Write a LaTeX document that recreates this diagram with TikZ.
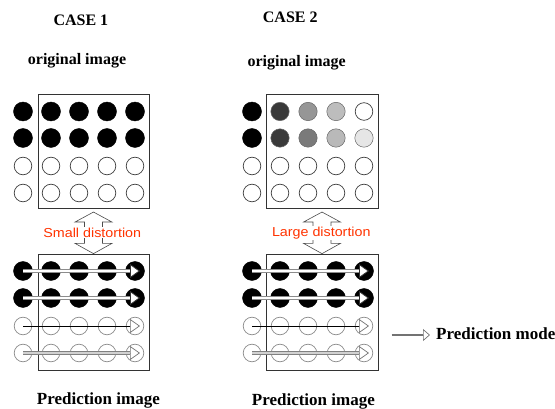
\documentclass[tikz,border=0pt]{standalone}
\usepackage{fontspec}
\usepackage{graphicx}
\setmainfont{Liberation Serif}
\newfontfamily\arialf{Liberation Sans}
\usetikzlibrary{arrows.meta,calc}
\definecolor{distred}{RGB}{255,51,0}
\definecolor{ga}{RGB}{57,57,57}
\definecolor{gb}{RGB}{150,150,150}
\definecolor{gc}{RGB}{189,189,189}
\definecolor{gd}{RGB}{58,58,58}
\definecolor{ge}{RGB}{122,122,122}
\definecolor{gf}{RGB}{185,185,185}
\definecolor{gg}{RGB}{230,230,230}
\begin{document}
\begin{tikzpicture}[x=1pt,y=-1pt,
  fullc/.style={circle,fill=black,draw=black,line width=0.4pt,minimum size=19pt,inner sep=0pt},
  openc/.style={circle,fill=white,draw=black!75,line width=0.7pt,minimum size=17.6pt,inner sep=0pt},
  predopen/.style={openc,draw=black!45},
  greyc/.style={circle,fill=#1,draw=black!60,line width=0.5pt,minimum size=18.4pt,inner sep=0pt},
  frame/.style={draw=black!80,line width=0.7pt,minimum width=111pt,inner sep=0pt},
  title/.style={font=\bfseries\fontsize{16}{18}\selectfont,inner sep=0pt,anchor=base west},
  predtitle/.style={font=\bfseries\fontsize{17}{19}\selectfont,inner sep=0pt,anchor=base west},
  distlabel/.style={font=\arialf\fontsize{13}{15}\selectfont,text=distred,fill=white,inner sep=1pt},
  hollow/.style={draw=black!70,line width=0.6pt,fill=white},
  shaftA/.style={draw=black!45,double=white,line width=0.7pt,double distance=2.2pt},
  shaftB/.style={draw=black,line width=0.9pt},
  shaftC/.style={draw=black!50,double=black!18,line width=0.7pt,double distance=2pt},
  shaftM/.style={draw=black!55,line width=1.4pt},
  tipA/.style={draw=black!80,line width=0.8pt,-{Triangle[length=10pt,width=14pt,fill=white]}},
  tipB/.style={draw=black!55,line width=0.7pt,-{Triangle[length=10pt,width=14pt,fill=white]}},
  tipM/.style={draw=black!55,line width=0.7pt,-{Triangle[length=7pt,width=12pt,fill=white]}},
  dblarr/.pic={\path[hollow] (0,0) -- (18.5,10) -- (9,10) -- (9,31.3) -- (18.5,31.3) -- (0,41.6)
      -- (-18.5,31.3) -- (-9,31.3) -- (-9,10) -- (-18.5,10) -- cycle;}
]
\useasboundingbox (0,0) rectangle (555,409);

% ---------- titles ----------
\node[title] (case1) at (53.3,26) {CASE 1};
\node[title] (case2) at (262.7,22.7) {CASE 2};
\node[title] (orig1) at (27.7,64.5) {original image};
\node[title] (orig2) at (247.3,67) {original image};
\node[predtitle] (pred1) at (36.7,404.5) {Prediction image};
\node[predtitle] (pred2) at (251.7,405.3) {Prediction image};

% ---------- frames ----------
\node[frame,minimum height=114pt] (b1t) at (93.5,151) {};
\node[frame,minimum height=116pt] (b1b) at (93.5,312) {};
\node[frame,minimum width=112pt,minimum height=114pt] (b2t) at (322,151) {};
\node[frame,minimum width=112pt,minimum height=116pt] (b2b) at (322,312) {};

% ---------- case 1 original ----------
\foreach \c/\x in {1/23,2/51,3/79,4/107,5/135}{
  \node[fullc] (o1-1-\c) at (\x,111.5) {};
  \node[fullc] (o1-2-\c) at (\x,138) {};
  \node[openc] (o1-3-\c) at (\x,166) {};
  \node[openc] (o1-4-\c) at (\x,193) {};
}
% ---------- case 2 original ----------
\node[fullc] (o2-1-1) at (252,111.5) {};
\node[greyc=ga] (o2-1-2) at (280,111.5) {};
\node[greyc=gb] (o2-1-3) at (308,111.5) {};
\node[greyc=gc] (o2-1-4) at (336,111.5) {};
\node[openc] (o2-1-5) at (364,111.5) {};
\node[fullc] (o2-2-1) at (252,138) {};
\node[greyc=gd] (o2-2-2) at (280,138) {};
\node[greyc=ge] (o2-2-3) at (308,138) {};
\node[greyc=gf] (o2-2-4) at (336,138) {};
\node[greyc=gg] (o2-2-5) at (364,138) {};
\foreach \c/\x in {1/252,2/280,3/308,4/336,5/364}{
  \node[openc] (o2-3-\c) at (\x,166) {};
  \node[openc] (o2-4-\c) at (\x,193) {};
}

% ---------- prediction images ----------
\foreach \k/\off in {1/0,2/229}{
  \foreach \c/\x in {1/23,2/51,3/79,4/107,5/135}{
    \node[fullc] (p\k-1-\c) at (\x+\off,271) {};
    \node[fullc] (p\k-2-\c) at (\x+\off,298) {};
    \node[predopen] (p\k-3-\c) at (\x+\off,326) {};
    \node[predopen] (p\k-4-\c) at (\x+\off,353) {};
  }
  \foreach \r in {1,2,3,4}{
    \coordinate (e\k-\r) at ($(p\k-\r-5.center)+(5,0)$);
    \coordinate (s\k-\r) at ($(p\k-\r-5.center)+(-5,0)$);
  }
  \draw[shaftA] (p\k-1-1.center) -- (s\k-1);
  \draw[shaftA] (p\k-2-1.center) -- (s\k-2);
  \draw[shaftB] (p\k-3-1.center) -- (s\k-3);
  \draw[shaftC] (p\k-4-1.center) -- (s\k-4);
  \draw[tipA] (s\k-1) -- (e\k-1);
  \draw[tipA] (s\k-2) -- (e\k-2);
  \draw[tipB] (s\k-3) -- (e\k-3);
  \draw[tipB] (s\k-4) -- (e\k-4);
}

% ---------- hollow double arrows ----------
\pic at ($(b1t.south)+(0,3.7)$) {dblarr};
\pic at ($(b2t.south)+(0,3.7)$) {dblarr};
\node[distlabel] (d1) at (92.3,232.7) {\scalebox{1.1}[1]{Small distortion}};
\node[distlabel] (d2) at (321.3,232.7) {\scalebox{1.1}[1]{Large distortion}};

% ---------- legend ----------
\coordinate (pm0) at (391.7,335);
\coordinate (pm1) at (430,335);
\coordinate (pm2) at (423,335);
\node[predtitle] (pmt) at (436,339.3) {Prediction mode};
\draw[shaftM] (pm0) -- (pm2);
\draw[tipM] (pm2) -- (pm1);
\end{tikzpicture}
\end{document}
